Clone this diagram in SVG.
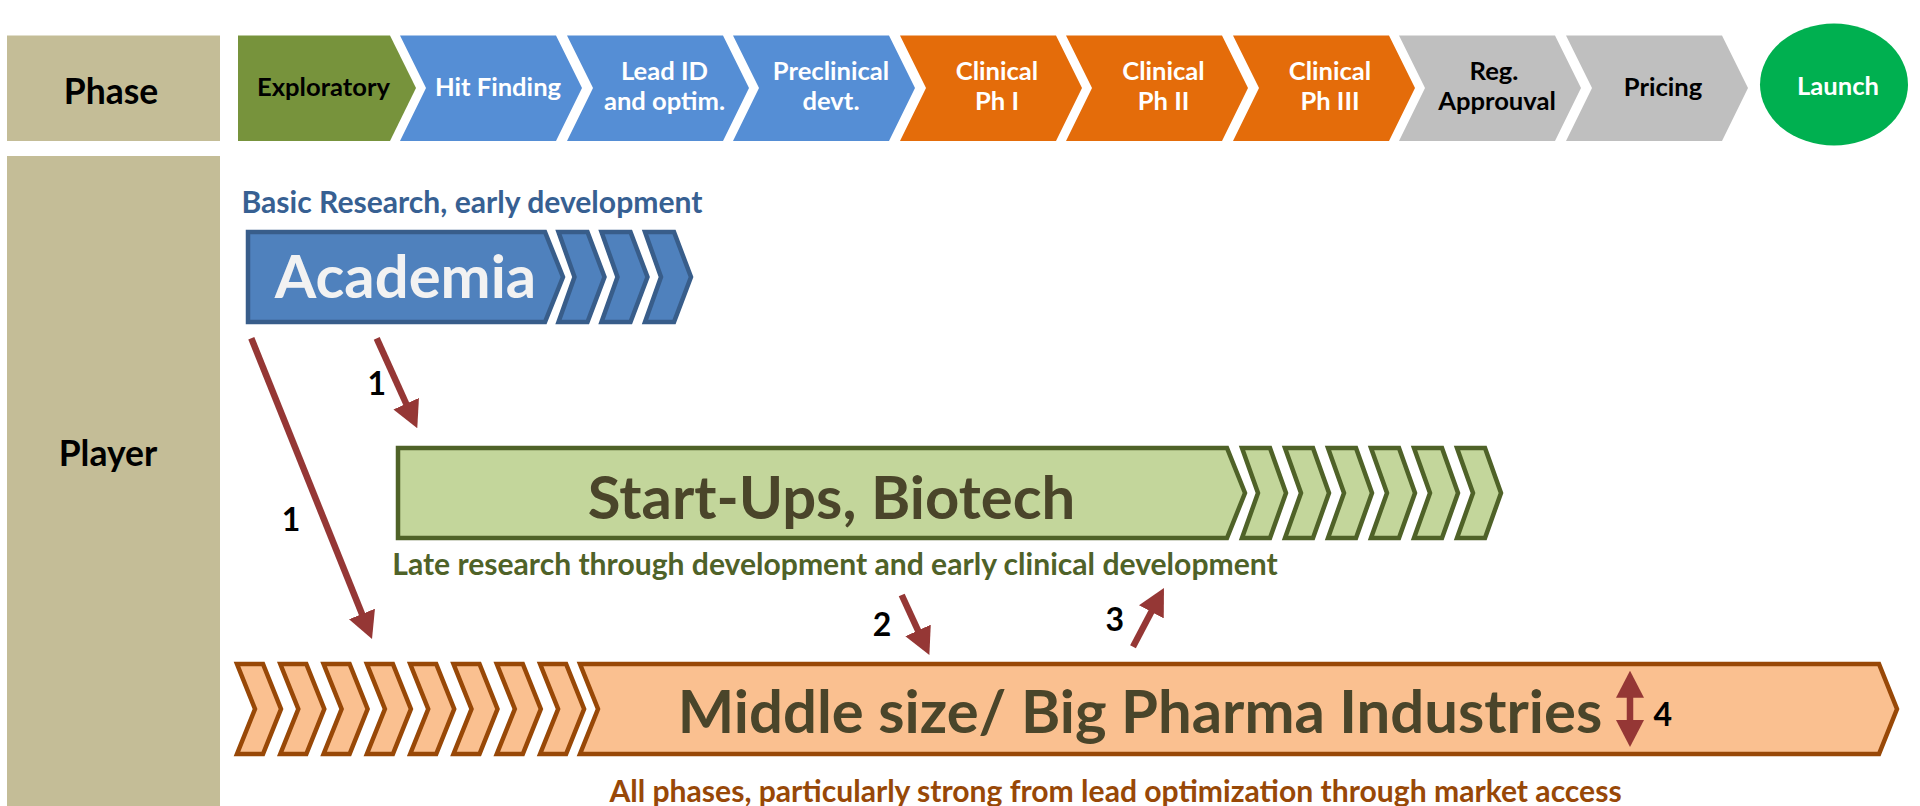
<svg xmlns="http://www.w3.org/2000/svg" width="1920" height="806" viewBox="0 0 1920 806">
<style>
  .t { font-family: Lato, "Liberation Sans", sans-serif; font-weight: bold; text-anchor: middle; }
  .hdr { fill: #C4BD97; }
  .ph { font-size: 25.6px; }
  .w { fill: #FFFFFF; }
  .k { fill: #000000; }
  .big { font-size: 59.8px; }
  .sub { font-size: 30.1px; }
  .num { font-size: 32px; fill: #000000; }
  .aca { fill: #4F81BD; stroke: #385D8A; stroke-width: 4.5; stroke-linejoin: miter; }
  .bio { fill: #C3D69B; stroke: #4F6228; stroke-width: 4.5; }
  .pha { fill: #FAC090; stroke: #984807; stroke-width: 4.5; }
  .arr { stroke: #953735; stroke-width: 6.5; fill: none; }
</style>
<defs>
  <marker id="head" markerUnits="userSpaceOnUse" viewBox="0 0 27 28" markerWidth="27" markerHeight="28" refX="2" refY="14" orient="auto-start-reverse">
    <path d="M0,0 L27,14 L0,28 Z" fill="#953735"/>
  </marker>
</defs>

<g id="phase-header">
  <rect class="hdr" x="7" y="35.5" width="213" height="105.5"/>
  <text class="t k" x="111" y="104" font-size="35.5">Phase</text>
</g>
<g id="player-header">
  <rect class="hdr" x="7" y="156" width="213" height="660"/>
  <text class="t k" x="108" y="466" font-size="35.5">Player</text>
</g>

<g id="phase-exploratory">
  <path d="M238,35.5 H390 L416,88 L390,141 H238 Z" fill="#77933C"/>
  <text class="t ph k" x="323.5" y="96">Exploratory</text>
</g>
<g id="phase-hit-finding">
  <path d="M400,35.5 H556 L582,88 L556,141 H400 L426,88 Z" fill="#558ED5"/>
  <text class="t ph w" x="498" y="96">Hit Finding</text>
</g>
<g id="phase-lead">
  <path d="M567,35.5 H723 L749,88 L723,141 H567 L593,88 Z" fill="#558ED5"/>
  <text class="t ph w" x="664.5" y="80">Lead ID</text>
  <text class="t ph w" x="664.5" y="110">and optim.</text>
</g>
<g id="phase-preclinical">
  <path d="M733,35.5 H889 L915,88 L889,141 H733 L759,88 Z" fill="#558ED5"/>
  <text class="t ph w" x="831" y="80">Preclinical</text>
  <text class="t ph w" x="831" y="110">devt.</text>
</g>
<g id="phase-clinical-1">
  <path d="M900,35.5 H1056 L1082,88 L1056,141 H900 L926,88 Z" fill="#E46C0A"/>
  <text class="t ph w" x="997" y="80">Clinical</text>
  <text class="t ph w" x="997" y="110">Ph I</text>
</g>
<g id="phase-clinical-2">
  <path d="M1066,35.5 H1222 L1248,88 L1222,141 H1066 L1092,88 Z" fill="#E46C0A"/>
  <text class="t ph w" x="1163.5" y="80">Clinical</text>
  <text class="t ph w" x="1163.5" y="110">Ph II</text>
</g>
<g id="phase-clinical-3">
  <path d="M1233,35.5 H1389 L1415,88 L1389,141 H1233 L1259,88 Z" fill="#E46C0A"/>
  <text class="t ph w" x="1330" y="80">Clinical</text>
  <text class="t ph w" x="1330" y="110">Ph III</text>
</g>
<g id="phase-reg">
  <path d="M1399,35.5 H1555 L1581,88 L1555,141 H1399 L1425,88 Z" fill="#BFBFBF"/>
  <text class="t ph k" x="1494" y="80">Reg.</text>
  <text class="t ph k" x="1497" y="110">Approuval</text>
</g>
<g id="phase-pricing">
  <path d="M1566,35.5 H1722 L1748,88 L1722,141 H1566 L1592,88 Z" fill="#BFBFBF"/>
  <text class="t ph k" x="1663" y="96">Pricing</text>
</g>
<g id="phase-launch">
  <ellipse cx="1834" cy="84.5" rx="74" ry="61" fill="#00B050"/>
  <text class="t ph w" x="1838" y="95">Launch</text>
</g>

<g id="academia">
  <text class="t sub" x="472" y="213" fill="#376092">Basic Research, early development</text>
  <path class="aca" d="M248,232 H545 L563,277 L545,322 H248 Z"/>
  <path class="aca" d="M558.5,232 H587.5 L604.5,277 L587.5,322 H558.5 L574.5,277 Z"/>
  <path class="aca" d="M601.5,232 H630.5 L647.5,277 L630.5,322 H601.5 L617.5,277 Z"/>
  <path class="aca" d="M645,232 H674 L691,277 L674,322 H645 L661,277 Z"/>
  <text class="t big" x="405.5" y="298" fill="#F2F2F2">Academia</text>
</g>

<g id="startups">
  <path class="bio" d="M398,448 H1227 L1245,493 L1227,538 H398 Z"/>
  <path class="bio" d="M1242,448 H1270 L1286,493 L1270,538 H1242 L1258,493 Z"/>
  <path class="bio" d="M1285,448 H1313 L1329,493 L1313,538 H1285 L1301,493 Z"/>
  <path class="bio" d="M1328,448 H1356 L1372,493 L1356,538 H1328 L1344,493 Z"/>
  <path class="bio" d="M1371,448 H1399 L1415,493 L1399,538 H1371 L1387,493 Z"/>
  <path class="bio" d="M1414,448 H1442 L1458,493 L1442,538 H1414 L1430,493 Z"/>
  <path class="bio" d="M1457,448 H1485 L1501,493 L1485,538 H1457 L1473,493 Z"/>
  <text class="t big" x="831.5" y="519" fill="#4A452A">Start-Ups, Biotech</text>
  <text class="t sub" x="835" y="575" fill="#4F6228">Late research through development and early clinical development</text>
</g>

<g id="pharma">
  <path class="pha" d="M237,664 H263 L281,709 L263,754 H237 L255,709 Z"/>
  <path class="pha" d="M280.3,664 H306.3 L324.3,709 L306.3,754 H280.3 L298.3,709 Z"/>
  <path class="pha" d="M323.6,664 H349.6 L367.6,709 L349.6,754 H323.6 L341.6,709 Z"/>
  <path class="pha" d="M366.9,664 H392.9 L410.9,709 L392.9,754 H366.9 L384.9,709 Z"/>
  <path class="pha" d="M410.2,664 H436.2 L454.2,709 L436.2,754 H410.2 L428.2,709 Z"/>
  <path class="pha" d="M453.5,664 H479.5 L497.5,709 L479.5,754 H453.5 L471.5,709 Z"/>
  <path class="pha" d="M496.8,664 H522.8 L540.8,709 L522.8,754 H496.8 L514.8,709 Z"/>
  <path class="pha" d="M540.1,664 H566.1 L584.1,709 L566.1,754 H540.1 L558.1,709 Z"/>
  <path class="pha" d="M580,664 H1879 L1897,709 L1879,754 H580 L598,709 Z"/>
  <text class="t big" x="1140" y="733" fill="#4A452A">Middle size/ Big Pharma Industries</text>
  <text class="t sub" x="1115.5" y="802" fill="#984807">All phases, particularly strong from lead optimization through market access</text>
</g>

<g id="connectors">
  <line class="arr" x1="251.3" y1="338.3" x2="362.7" y2="615.8" marker-end="url(#head)"/>
  <line class="arr" x1="376.7" y1="338.3" x2="407" y2="405.5" marker-end="url(#head)"/>
  <line class="arr" x1="901.7" y1="595" x2="918.9" y2="632.3" marker-end="url(#head)"/>
  <line class="arr" x1="1133" y1="646.7" x2="1152.3" y2="610.1" marker-end="url(#head)"/>
  <line class="arr" x1="1630" y1="695.7" x2="1630" y2="722" stroke-width="7" marker-start="url(#head)" marker-end="url(#head)"/>
  <text class="t num" x="291" y="531">1</text>
  <text class="t num" x="376.7" y="395">1</text>
  <text class="t num" x="882" y="636">2</text>
  <text class="t num" x="1114.7" y="631">3</text>
  <text class="t num" x="1662.7" y="726">4</text>
</g>
</svg>
